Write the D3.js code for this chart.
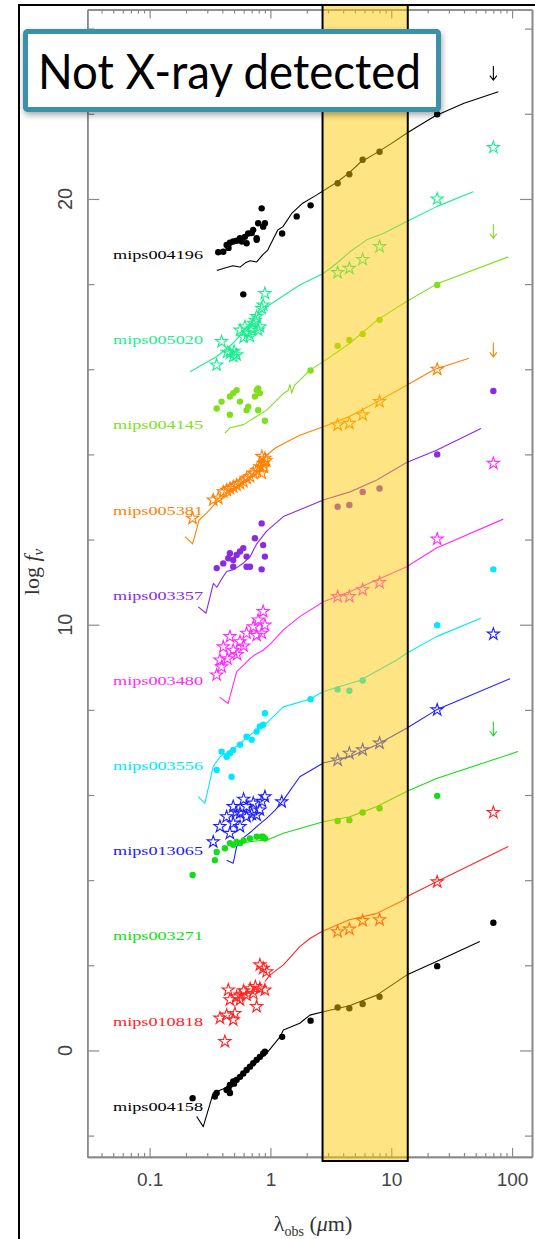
<!DOCTYPE html>
<html>
<head>
<meta charset="utf-8">
<script src="https://cdn.jsdelivr.net/npm/d3@7"></script>
<style>
  body { margin: 0; background: #fff; }
  svg { display: block; }
</style>
</head>
<body>
<svg id="chart" width="535" height="1239"></svg>
<script>
// ---- Sources (top to bottom, offset by 2 dex each) ----
const sourceNames = ["mips004196", "mips005020", "mips004145", "mips005381", "mips003357",
  "mips003480", "mips003556", "mips013065", "mips003271", "mips010818", "mips004158"];
const sourceColors = ["#000000", "#1aee90", "#7ee01c", "#ff8000", "#8a2be2",
  "#ff2aff", "#00e8ff", "#2020ff", "#14dd14", "#ff2424", "#000000"];
const markerType = ["dot", "star", "dot", "star", "dot", "star", "dot", "star", "dot", "star", "dot"];

// Optical photometry [lambda (um), log f_nu]
const optical = [
  [[0.37,18.75],[0.407,18.76],[0.434,18.92],[0.45,18.85],[0.462,18.97],[0.492,19.0],[0.525,19.02],[0.56,19.08],[0.58,19.0],[0.596,17.76],[0.615,19.11],[0.635,18.96],[0.655,19.19],[0.7,19.2],[0.721,19.27],[0.769,19.08],[0.769,19.04],[0.792,19.43],[0.846,19.78],[0.871,19.35],[0.9,19.43]],
  [[0.359,16.1],[0.394,16.65],[0.44,16.4],[0.462,16.38],[0.492,16.3],[0.5,16.42],[0.525,16.34],[0.56,16.92],[0.6,16.75],[0.615,17.0],[0.655,16.85],[0.677,16.77],[0.7,16.95],[0.721,17.08],[0.75,17.15],[0.769,17.24],[0.792,16.92],[0.818,17.0],[0.846,17.43],[0.871,17.51],[0.9,17.78]],
  [[0.359,15.08],[0.394,15.24],[0.462,15.36],[0.462,14.93],[0.492,15.44],[0.525,15.51],[0.56,15.24],[0.635,15.04],[0.655,15.12],[0.744,15.36],[0.769,15.51],[0.792,15.55],[0.792,15.04],[0.818,15.44],[0.9,14.79]],
  [[0.227,12.5],[0.336,12.93],[0.37,12.97],[0.407,13.12],[0.434,13.16],[0.462,13.2],[0.492,13.24],[0.525,13.28],[0.56,13.32],[0.596,13.36],[0.635,13.44],[0.677,13.48],[0.721,13.56],[0.769,13.63],[0.818,13.71],[0.846,13.56],[0.85,13.95],[0.871,13.79],[0.88,13.7],[0.9,13.91],[0.92,13.85]],
  [[0.359,11.33],[0.407,11.44],[0.448,11.56],[0.462,11.68],[0.492,11.52],[0.492,11.36],[0.525,11.64],[0.56,11.72],[0.596,11.8],[0.635,11.6],[0.635,11.36],[0.677,11.36],[0.744,12.03],[0.846,12.38],[0.846,11.3],[0.871,11.87],[0.9,11.6]],
  [[0.359,8.82],[0.382,9.17],[0.394,9.01],[0.407,9.48],[0.44,9.2],[0.462,9.72],[0.492,9.4],[0.53,9.3],[0.56,9.6],[0.6,9.5],[0.635,9.8],[0.721,9.95],[0.769,9.75],[0.792,10.11],[0.846,9.8],[0.871,10.31],[0.9,9.99]],
  [[0.359,6.59],[0.394,7.02],[0.434,6.9],[0.462,6.98],[0.477,6.43],[0.492,7.06],[0.56,7.18],[0.635,7.37],[0.699,7.3],[0.769,7.49],[0.818,7.61],[0.871,7.65],[0.9,7.92]],
  [[0.336,4.9],[0.382,5.26],[0.434,5.49],[0.462,5.1],[0.492,5.73],[0.492,5.34],[0.52,5.6],[0.56,5.57],[0.56,5.26],[0.6,5.9],[0.635,5.73],[0.635,5.49],[0.7,5.55],[0.721,5.81],[0.769,5.53],[0.818,5.65],[0.85,5.85],[0.9,5.96]],
  [[0.227,4.12],[0.347,4.47],[0.359,4.66],[0.42,4.75],[0.462,4.87],[0.492,4.83],[0.525,4.9],[0.56,4.87],[0.6,4.93],[0.677,4.98],[0.769,5.02],[0.846,5.02],[0.871,5.02],[0.9,4.98]],
  [[0.382,0.76],[0.42,0.21],[0.434,0.83],[0.448,1.42],[0.462,1.19],[0.492,0.72],[0.508,0.87],[0.525,1.26],[0.56,1.3],[0.56,1.19],[0.6,1.4],[0.635,1.3],[0.68,1.45],[0.721,1.34],[0.75,1.5],[0.769,1.03],[0.818,1.46],[0.818,2.01],[0.871,1.93],[0.9,1.42],[0.93,1.85]],
  [[0.227,-1.12],[0.347,-1.08],[0.359,-1.0],[0.434,-0.93],[0.45,-0.9],[0.462,-0.81],[0.462,-1.0],[0.492,-0.73],[0.5,-0.78],[0.525,-0.69],[0.56,-0.62],[0.596,-0.54],[0.635,-0.46],[0.677,-0.38],[0.721,-0.3],[0.769,-0.22],[0.818,-0.15],[0.871,-0.07],[0.9,-0.03]]
];

// Near-infrared photometry (J, H, K) [lambda, log f_nu]
const nearIR = [
  [[1.25,19.19],[1.65,19.59],[2.15,19.85]],
  [], [[2.15,15.97]], [], [], [],
  [[2.15,8.25]],
  [[1.24,5.84]],
  [], [],
  [[1.25,0.32],[2.15,0.7]]
];

// IRAC 3.6 / 4.5 / 5.8 / 8.0 um
const iracWave = [3.6, 4.5, 5.8, 8.0];
const iracFlux = [
  [20.37,20.58,20.92,21.11],
  [18.27,18.37,18.58,18.88],
  [16.55,16.69,16.83,17.16],
  [14.69,14.73,14.93,15.24],
  [12.77,12.81,13.12,13.20],
  [10.66,10.66,10.82,10.99],
  [8.48,8.45,8.69,null],
  [6.82,6.98,7.06,7.22],
  [5.39,5.41,5.59,5.69],
  [2.79,2.85,3.05,3.07],
  [1.01,0.99,1.09,1.26]
];

// MIPS 24 and 70 um
const mips24 = [21.99, 20.0, 17.98, 16.0, 14.0, 12.01, 9.99, 8.0, 5.98, 3.96, 1.98];
const mips70 = [23.12, 21.21, 19.41, 16.62, 15.49, 13.79, 11.30, 9.78, 7.72, 5.59, 3.00];
const mips70Limit = [true, false, true, true, false, false, false, false, true, false, false];

// Best-fit SED models [lambda, log f_nu]
const models = [
  [[0.36,18.32],[0.42,18.38],[0.49,18.43],[0.56,18.4],[0.62,18.5],[0.68,18.55],[0.77,18.52],[0.87,18.7],[0.95,18.8],[1.02,18.98],[1.15,19.27],[1.27,19.35],[1.5,19.66],[1.85,19.9],[2.4,20.09],[3.5,20.38],[4.5,20.62],[5.5,20.85],[7.7,21.1],[10,21.3],[13.5,21.55],[23,21.95],[40,22.25],[77,22.52]],
  [[0.216,15.94],[0.36,16.3],[0.49,16.61],[0.72,17.16],[0.93,17.47],[1.75,17.98],[2.74,18.25],[3.54,18.49],[4.55,18.76],[6.26,19.04],[8.6,19.19],[13.4,19.47],[23.7,19.82],[47.6,20.17]],
  [[0.42,14.5],[0.46,14.62],[0.6,14.7],[0.68,14.8],[0.93,15.04],[1.28,15.43],[1.4,15.5],[1.45,15.64],[1.5,15.44],[1.58,15.62],[2.12,15.98],[2.74,16.18],[4.55,16.61],[7.7,17.16],[13.4,17.59],[23.7,18.0],[93,18.64]],
  [[0.196,12.07],[0.227,11.9],[0.257,12.46],[0.296,12.62],[0.35,12.85],[0.45,13.05],[0.56,13.3],[0.68,13.48],[0.8,13.7],[0.93,13.98],[1.1,14.15],[1.3,14.26],[1.75,14.45],[2.74,14.65],[4.5,14.89],[7.7,15.24],[13.5,15.63],[23,16.0],[44,16.26]],
  [[0.253,10.42],[0.293,10.27],[0.337,10.97],[0.36,10.88],[0.4,11.1],[0.434,11.25],[0.5,11.3],[0.6,11.45],[0.68,11.6],[0.77,11.9],[0.93,12.2],[1.28,12.54],[1.75,12.7],[2.74,12.93],[4.55,13.12],[7.6,13.4],[13.4,13.81],[23.7,14.1],[55.3,14.61]],
  [[0.38,8.3],[0.447,8.15],[0.525,8.9],[0.6,9.05],[0.68,9.21],[0.75,9.3],[0.87,9.4],[1.0,9.55],[1.28,9.88],[1.75,10.19],[2.74,10.54],[4.55,10.78],[7.6,11.05],[13.4,11.36],[23.7,11.8],[84.6,12.48]],
  [[0.252,5.96],[0.287,5.81],[0.336,6.67],[0.382,6.9],[0.5,7.1],[0.68,7.41],[0.93,7.69],[1.28,8.07],[2.12,8.25],[2.74,8.43],[5.5,8.69],[11.1,9.17],[13.4,9.33],[23.7,9.72],[55,10.15]],
  [[0.434,4.47],[0.492,4.4],[0.525,4.79],[0.6,5.0],[0.7,5.15],[0.8,5.3],[0.93,5.45],[1.1,5.65],[1.28,5.88],[1.75,6.43],[2.74,6.75],[4.55,6.9],[7.6,7.18],[13.4,7.57],[23.7,8.0],[96,8.73]],
  [[0.47,4.85],[0.6,4.88],[0.75,4.92],[0.93,4.94],[1.28,5.1],[2.74,5.37],[4.55,5.49],[7.6,5.73],[13.4,6.08],[23.7,6.39],[112,7.02]],
  [[0.9,1.62],[0.99,1.77],[1.28,2.01],[1.75,2.44],[2.12,2.63],[2.65,2.79],[4.5,3.07],[7.6,3.22],[12.6,3.53],[13.4,3.61],[23.7,3.96],[93,4.79]],
  [[0.245,-1.55],[0.278,-1.79],[0.336,-1.0],[0.45,-0.85],[0.6,-0.55],[0.75,-0.3],[0.93,-0.07],[1.2,0.32],[1.28,0.48],[1.75,0.64],[2.12,0.83],[2.74,0.91],[4.5,1.05],[7.6,1.3],[13.4,1.77],[23.7,2.09],[54,2.56]]
];

// Highlighted rest-frame window (um)
const bandRange = [2.7, 13.7];

// Axis ticks
const xMajor = [0.1, 1, 10, 100];
const xMajorLabels = ["0.1", "1", "10", "100"];
const xMinor = [0.04,0.05,0.06,0.07,0.08,0.09, 0.2,0.3,0.4,0.5,0.6,0.7,0.8,0.9,
                2,3,4,5,6,7,8,9, 20,30,40,50,60,70,80,90];
const yMajor = [0, 10, 20];
const yMinor = [-2, 2, 4, 6, 8, 12, 14, 16, 18, 22, 24];

const panelTitle = "Not X-ray detected";

// ---- Layout ----
const svg = d3.select("#chart");
const W = 535, H = 1239;
const plot = { left: 87.3, right: 532, top: 9.5, bottom: 1156.9 };

const x = d3.scaleLog().domain([0.0305, 146.2]).range([plot.left, plot.right]);
const y = d3.scaleLinear().domain([-2.5, 24.45]).range([plot.bottom, plot.top]);

svg.append("rect").attr("width", W).attr("height", H).attr("fill", "#fff");

const defs = svg.append("defs");
const shadow = defs.append("filter").attr("id", "boxShadow")
  .attr("x", "-10%").attr("y", "-20%").attr("width", "130%").attr("height", "160%");
shadow.append("feDropShadow").attr("dx", 1).attr("dy", 3).attr("stdDeviation", 3)
  .attr("flood-color", "#000").attr("flood-opacity", 0.35);

// Outer frame
svg.append("path").attr("d", `M19,${H} V5 H${W}`)
  .attr("fill", "none").attr("stroke", "#000").attr("stroke-width", 2);

// ---- Axes ----
const axisColor = "#8a8a8a";
const axesG = svg.append("g").attr("class", "axes");

function styleAxis(g) {
  g.selectAll("path.domain").attr("stroke", axisColor).attr("stroke-width", 1.6);
  g.selectAll(".tick line").attr("stroke", axisColor).attr("stroke-width", 1.2);
  g.selectAll(".tick text").attr("fill", "#444")
    .attr("font-family", "'Liberation Sans', Arial, sans-serif").attr("font-size", 19);
}

axesG.append("g").attr("transform", `translate(0,${plot.bottom})`)
  .call(d3.axisBottom(x).tickValues(xMajor).tickSizeInner(-9).tickSizeOuter(0)
    .tickPadding(16).tickFormat((d, i) => xMajorLabels[i]))
  .call(styleAxis);
axesG.append("g").attr("transform", `translate(0,${plot.bottom})`)
  .call(d3.axisBottom(x).tickValues(xMinor).tickSizeInner(-4).tickSizeOuter(0).tickFormat(""))
  .call(styleAxis);
axesG.append("g").attr("transform", `translate(0,${plot.top})`)
  .call(d3.axisTop(x).tickValues(xMajor).tickSizeInner(-9).tickSizeOuter(0).tickFormat(""))
  .call(styleAxis);
axesG.append("g").attr("transform", `translate(0,${plot.top})`)
  .call(d3.axisTop(x).tickValues(xMinor).tickSizeInner(-4).tickSizeOuter(0).tickFormat(""))
  .call(styleAxis);

axesG.append("g").attr("transform", `translate(${plot.left},0)`)
  .call(d3.axisLeft(y).tickValues(yMajor).tickSizeInner(-12).tickSizeOuter(0).tickFormat(""))
  .call(styleAxis);
axesG.append("g").attr("transform", `translate(${plot.left},0)`)
  .call(d3.axisLeft(y).tickValues(yMinor).tickSizeInner(-7).tickSizeOuter(0).tickFormat(""))
  .call(styleAxis);
axesG.append("g").attr("transform", `translate(${plot.right},0)`)
  .call(d3.axisRight(y).tickValues(yMajor).tickSizeInner(-12).tickSizeOuter(0).tickFormat(""))
  .call(styleAxis);
axesG.append("g").attr("transform", `translate(${plot.right},0)`)
  .call(d3.axisRight(y).tickValues(yMinor).tickSizeInner(-7).tickSizeOuter(0).tickFormat(""))
  .call(styleAxis);

// Rotated y tick labels
axesG.selectAll("text.ylab").data(yMajor).join("text")
  .attr("class", "ylab")
  .attr("transform", d => `translate(65,${y(d)}) rotate(-90)`)
  .attr("text-anchor", "middle").attr("dominant-baseline", "central")
  .attr("fill", "#444").attr("font-family", "'Liberation Sans', Arial, sans-serif")
  .attr("font-size", 20).text(d => d);

// Axis titles
const serif = "'Liberation Serif', 'DejaVu Serif', serif";
const yTitle = svg.append("text")
  .attr("transform", "translate(39,572) rotate(-90)")
  .attr("text-anchor", "middle").attr("font-family", serif).attr("font-size", 22).attr("fill", "#333");
yTitle.append("tspan").text("log ");
yTitle.append("tspan").attr("font-style", "italic").text("f");
yTitle.append("tspan").attr("font-style", "italic").attr("font-size", 15).attr("dy", 4).text("ν");

const xTitle = svg.append("text")
  .attr("x", 313).attr("y", 1231)
  .attr("text-anchor", "middle").attr("font-family", serif).attr("font-size", 22).attr("fill", "#333");
xTitle.append("tspan").text("λ");
xTitle.append("tspan").attr("font-size", 14).attr("dy", 5).text("obs");
xTitle.append("tspan").attr("dy", -5).text("  (");
xTitle.append("tspan").attr("font-style", "italic").text("μ");
xTitle.append("tspan").text("m)");

// ---- SED data ----
const line = d3.line().x(d => x(d[0])).y(d => y(d[1]));
const starSym = d3.symbol().type(d3.symbolStar).size(46);
const dataG = svg.append("g").attr("class", "seds");

function drawMarker(g, type, color, lam, val) {
  if (type === "dot") {
    g.append("circle").attr("cx", x(lam)).attr("cy", y(val)).attr("r", 3.2).attr("fill", color);
  } else {
    g.append("path").attr("d", starSym()).attr("transform", `translate(${x(lam)},${y(val)})`)
      .attr("fill", "none").attr("stroke", color).attr("stroke-width", 1.1);
  }
}

sourceNames.forEach((name, i) => {
  const c = sourceColors[i];
  const g = dataG.append("g").attr("class", name);

  g.append("path").datum(models[i]).attr("d", line)
    .attr("fill", "none").attr("stroke", c).attr("stroke-width", 1.1).attr("stroke-linejoin", "round");

  optical[i].forEach(p => drawMarker(g, markerType[i], c, p[0], p[1]));
  nearIR[i].forEach(p => drawMarker(g, markerType[i], c, p[0], p[1]));
  iracFlux[i].forEach((v, k) => { if (v !== null) drawMarker(g, markerType[i], c, iracWave[k], v); });
  drawMarker(g, markerType[i], c, 24, mips24[i]);

  if (mips70Limit[i]) {
    const ax = x(70), ay = y(mips70[i]), len = 14;
    g.append("path")
      .attr("d", `M${ax},${ay} V${ay + len} M${ax - 3.5},${ay + len - 4.5} L${ax},${ay + len} L${ax + 3.5},${ay + len - 4.5}`)
      .attr("fill", "none").attr("stroke", c).attr("stroke-width", 1.1);
  } else {
    drawMarker(g, markerType[i], c, 70, mips70[i]);
  }

  // Source name, placed 2 dex apart down the panel
  g.append("text").attr("x", 113).attr("y", y(18.68 - 2 * i) + 4)
    .attr("font-family", serif).attr("font-size", 12.5)
    .attr("textLength", 90).attr("lengthAdjust", "spacingAndGlyphs")
    .attr("fill", c).text(name);
});

// ---- Highlighted wavelength window ----
svg.append("rect")
  .attr("x", x(bandRange[0])).attr("y", 5)
  .attr("width", x(bandRange[1]) - x(bandRange[0])).attr("height", 1161 - 5)
  .attr("fill", "rgb(253,200,0)").attr("fill-opacity", 0.49)
  .attr("stroke", "#000").attr("stroke-width", 2);

// ---- Title box ----
const box = svg.append("g");
box.append("rect").attr("x", 25.5).attr("y", 31.5).attr("width", 413).attr("height", 78).attr("rx", 2)
  .attr("fill", "#fff").attr("stroke", "#3a91a8").attr("stroke-width", 5)
  .attr("filter", "url(#boxShadow)");
box.append("text").attr("x", 38).attr("y", 89)
  .attr("font-family", "Lato, 'Open Sans', sans-serif").attr("font-size", 48)
  .attr("textLength", 383).attr("lengthAdjust", "spacingAndGlyphs")
  .attr("fill", "#000").text(panelTitle);
</script>
</body>
</html>
